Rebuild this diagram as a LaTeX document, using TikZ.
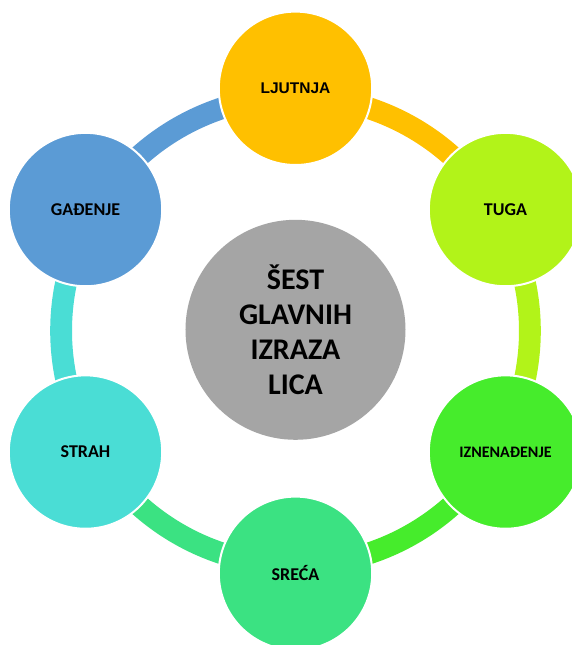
\documentclass[tikz,border=0pt]{standalone}
\usepackage{fontspec}
\setmainfont{Carlito}
\newfontfamily\arialfont{Liberation Sans}
\definecolor{cLj}{HTML}{FFC000}
\definecolor{cTu}{HTML}{B2F319}
\definecolor{cIz}{HTML}{46EC2C}
\definecolor{cSr}{HTML}{3BE282}
\definecolor{cSt}{HTML}{4ADDD5}
\definecolor{cGa}{HTML}{5B9BD5}
\definecolor{cCe}{HTML}{A5A5A5}
\tikzset{
  petal/.style={circle, draw=white, line width=2pt, minimum size=153.4pt, inner sep=0pt, font=\bfseries\fontsize{18pt}{20pt}\selectfont, text=black},
  hub/.style={circle, fill=cCe, minimum size=220pt, inner sep=0pt, align=center, font=\bfseries\fontsize{30pt}{35.3pt}\selectfont, text=black},
  ringseg/.style={line width=21.8pt}
}
\begin{document}
\begin{tikzpicture}
\useasboundingbox (-295.5pt,-314.2pt) rectangle (276.5pt,330.8pt);
\clip (-295.5pt,-314.2pt) rectangle (276.5pt,330.8pt);
\fill[white] (-295.5pt,-314.2pt) rectangle (276.5pt,330.8pt);
% ring segments
\def\rr{234.4pt}
\coordinate (r90) at (90:\rr);
\coordinate (r30) at (30:\rr);
\coordinate (rm30) at (-30:\rr);
\coordinate (rm90) at (-90:\rr);
\coordinate (rm150) at (-150:\rr);
\coordinate (r150) at (150:\rr);
\draw[ringseg, cLj] (r90) arc[start angle=90, end angle=30, radius=\rr];
\draw[ringseg, cTu] (r30) arc[start angle=30, end angle=-30, radius=\rr];
\draw[ringseg, cIz] (rm30) arc[start angle=-30, end angle=-90, radius=\rr];
\draw[ringseg, cSr] (rm90) arc[start angle=-90, end angle=-150, radius=\rr];
\draw[ringseg, cSt] (rm150) arc[start angle=210, end angle=150, radius=\rr];
\draw[ringseg, cGa] (r150) arc[start angle=150, end angle=90, radius=\rr];
% hub
\node[hub] (hub) at (0,1pt) {ŠEST\\GLAVNIH\\IZRAZA\\LICA};
% petals
\def\R{242.5pt}
\node[petal, fill=cLj, font=\arialfont\bfseries\fontsize{15.5pt}{18pt}\selectfont] (lj) at (90:\R) {LJUTNJA};
\node[petal, fill=cTu] (tu) at (30:\R) {TUGA};
\node[petal, fill=cIz, font=\bfseries\fontsize{16pt}{18pt}\selectfont] (iz) at (-30:\R) {IZNENAĐENJE};
\node[petal, fill=cSr] (sr) at (-90:\R) {SREĆA};
\node[petal, fill=cSt] (st) at (210:\R) {STRAH};
\node[petal, fill=cGa] (ga) at (150:\R) {GAĐENJE};
\end{tikzpicture}
\end{document}
